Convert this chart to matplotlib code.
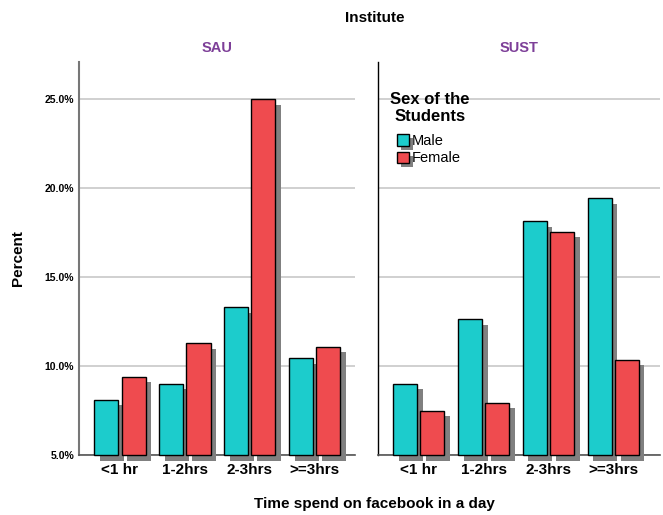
import matplotlib.pyplot as plt
import matplotlib.patheffects as pe
import numpy as np

plt.rcParams["font.family"] = ["Liberation Sans", "DejaVu Sans"]

# data (percent)
categories = ["<1 hr", "1-2hrs", "2-3hrs", ">=3hrs"]
institutes = ["SAU", "SUST"]
male = {"SAU": [8.1, 9.0, 13.3, 10.45], "SUST": [9.0, 12.65, 18.15, 19.45]}
female = {"SAU": [9.4, 11.3, 25.0, 11.1], "SUST": [7.5, 7.95, 17.55, 10.35]}
yticks = [5, 10, 15, 20, 25]

c_male = "#1ccccc"
c_female = "#ef4b4f"
shadow = [pe.SimplePatchShadow(offset=(4, -4), shadow_rgbFace="#808080", alpha=1.0), pe.Normal()]

fig = plt.figure(figsize=(6.63, 5.15), dpi=100)
ax1 = fig.add_axes([79 / 663, 60 / 515, 276 / 663, 393 / 515])
ax2 = fig.add_axes([378 / 663, 60 / 515, 282 / 663, 393 / 515])

x = np.arange(len(categories))
w = 0.37
for ax, inst in zip([ax1, ax2], institutes):
    ax.set_ylim(5, 27.1)
    ax.set_xlim(-0.63, 3.62 if inst == "SAU" else 3.72)
    ax.set_yticks(yticks)
    ax.yaxis.grid(True, color="#c8c8c8", linewidth=1.2)
    ax.set_axisbelow(True)
    for s in ["top", "right"]:
        ax.spines[s].set_visible(False)
    ax.spines["bottom"].set_color("#555555")
    ax.spines["bottom"].set_linewidth(1.2)
    ax.tick_params(length=0)
    for vals, off, col in [(male[inst], -0.21, c_male), (female[inst], 0.21, c_female)]:
        bars = ax.bar(x + off, np.array(vals) - 5, bottom=5, width=w, color=col,
                      edgecolor="black", linewidth=1, zorder=3)
        for b in bars:
            b.set_clip_on(False)
            b.set_path_effects(shadow)
    ax.set_xticks(x)
    ax.set_xticklabels(categories, fontsize=11, fontweight="bold")
    ax.tick_params(axis="x", pad=6)
    ax.set_title(inst, color="#7d3f98", fontsize=10.5, fontweight="bold", pad=7)

ax1.set_yticklabels([f"{v:.1f}%" for v in yticks], fontsize=7.5, fontweight="bold")
ax1.spines["left"].set_color("#777777")
ax1.spines["left"].set_linewidth(1.5)
ax2.set_yticklabels([])
ax2.spines["left"].set_color("black")
ax2.spines["left"].set_linewidth(1)

ax1.set_ylabel("Percent", fontsize=11, fontweight="bold", labelpad=14)

fig.text(0.565, 0.965, "Institute", ha="center", va="center", fontsize=11, fontweight="bold")
fig.text(0.565, 0.022, "Time spend on facebook in a day", ha="center", va="center",
         fontsize=11, fontweight="bold")

# legend: title as separate text so the gap matches
fig.text(430 / 663, 1 - 108 / 515, "Sex of the\nStudents", ha="center", va="center",
         multialignment="center", fontsize=12, fontweight="bold", linespacing=1.2)
handles = [plt.Rectangle((0, 0), 1, 1, facecolor=c_male, edgecolor="black"),
           plt.Rectangle((0, 0), 1, 1, facecolor=c_female, edgecolor="black")]
leg = fig.legend(handles, ["Male", "Female"], frameon=False,
                 loc="upper left", bbox_to_anchor=(391 / 663, 1 - 128 / 515), borderaxespad=0,
                 fontsize=10.5, handlelength=0.85, handleheight=0.85, handletextpad=0.2,
                 labelspacing=0.25)
for p in leg.get_patches():
    p.set_path_effects([pe.SimplePatchShadow(offset=(3, -3), shadow_rgbFace="#808080", alpha=1.0), pe.Normal()])

fig.savefig("out.png", dpi=100)
